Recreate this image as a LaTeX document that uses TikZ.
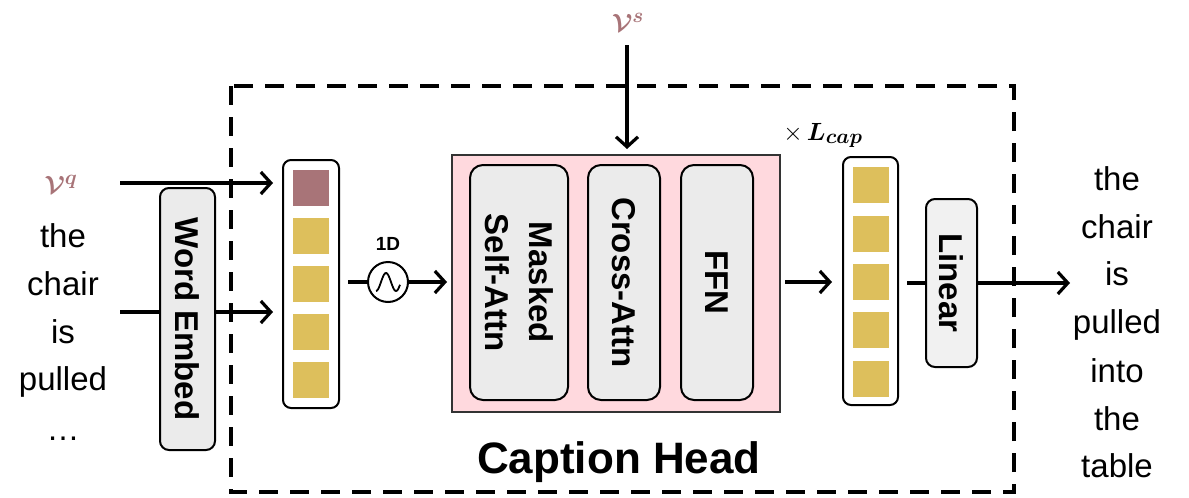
\documentclass[tikz,border=0pt]{standalone}
\usepackage{amsmath,bm}
\usepackage{fontspec}
\setmainfont{Liberation Sans}
\usetikzlibrary{arrows.meta}
\definecolor{mauve}{HTML}{A87478}
\definecolor{gold}{HTML}{DDBF5C}
\definecolor{pinkfill}{HTML}{FFD9DE}
\definecolor{boxgray}{HTML}{EBEBEB}
\begin{document}
\begin{tikzpicture}[x=1pt,y=-1pt,
  arr/.style={line width=3.2pt,-{Straight Barb[length=10pt,width=22pt]}},
  conn/.style={line width=3.2pt},
  gbox/.style={draw=black,line width=2pt,fill=boxgray,rounded corners=9pt,inner sep=0pt,font=\fontsize{33}{44}\selectfont\bfseries,align=center},
  stackbox/.style={draw=black,line width=2pt,fill=white,rounded corners=8pt,inner sep=0pt,minimum width=56,minimum height=248},
  sq/.style={fill=#1,inner sep=0pt,minimum width=36,minimum height=36},
  word/.style={anchor=base,inner sep=0pt,font=\fontsize{33}{40}\selectfont},
  dashbox/.style={line width=3.2pt,dash pattern=on 19pt off 12pt}
]
\useasboundingbox (0,0) rectangle (1189,498);

% dashed caption head frame
\draw[dashbox] (231,86) rectangle (1014,492);

% left input texts
\node[inner sep=0pt,text=mauve,font=\fontsize{32}{36}\selectfont] (vq) at (61,184) {$\bm{\mathcal{V}}^{\bm{q}}$};
\node[word] (l1) at (63,247) {the};
\node[word] (l2) at (63,295) {chair};
\node[word] (l3) at (63,343) {is};
\node[word] (l4) at (63,390) {pulled};
\node[word] (l5) at (63,440) {…};

% left token stack
\node[stackbox] (tl) at (311,284) {};
\node[sq=mauve] (a1) at (311,188) {};
\node[sq=gold] (a2) at (311,236) {};
\node[sq=gold] (a3) at (311,284) {};
\node[sq=gold] (a4) at (311,332) {};
\node[sq=gold] (a5) at (311,380) {};

% input arrows
\coordinate (qs) at (120,183);
\coordinate (ws) at (120,312);
\draw[arr,shorten >=9pt] (qs) -- (qs -| tl.west);
\draw[arr,shorten >=9pt] (ws) -- (ws -| tl.west);

% word embed
\node[gbox,rotate=-90,minimum width=262,minimum height=55] (we) at (187.5,319) {Word Embed};

% positional encoding
\node[draw=black,line width=2pt,fill=white,circle,minimum size=40,inner sep=0pt] (pe) at (388,282) {};
\draw[line width=1.8pt] plot[domain=-12:12,samples=40,smooth] ({388+\x},{282-9*sin((\x+7)*18)});
\node[inner sep=0pt,font=\fontsize{19}{22}\selectfont\bfseries] (pel) at (388,244) {1D};
\draw[conn,shorten <=8pt] (tl.east |- pe.west) -- (pe.west);

% caption head block
\node[draw=black!80,line width=2pt,fill=pinkfill,inner sep=0pt,minimum width=328,minimum height=257] (pk) at (616,283.5) {};
\draw[arr,shorten >=4pt] (pe.east) -- (pe.east -| pk.west);
\node[gbox,rotate=-90,minimum width=235,minimum height=98,rounded corners=13pt] (msa) at (519,282.5) {Masked\\Self-Attn};
\node[gbox,rotate=-90,minimum width=235,minimum height=72,rounded corners=13pt] (ca) at (624,282.5) {Cross-Attn};
\node[gbox,rotate=-90,minimum width=235,minimum height=72,rounded corners=13pt] (ffn) at (717,282.5) {FFN};

% V^s
\node[inner sep=0pt,text=mauve,font=\fontsize{32}{36}\selectfont] (vs) at (628,22) {$\bm{\mathcal{V}}^{\bm{s}}$};
\coordinate (vss) at (627,45);
\draw[arr,shorten >=5pt] (vss) -- (vss |- pk.north);

% x L_cap
\node[anchor=base,inner sep=0pt,font=\fontsize{30}{34}\selectfont] (lc) at (823,140) {$\times\,\bm{L}_{\bm{cap}}$};

% right token stack
\node[stackbox,minimum width=55] (tr) at (870.5,281) {};
\node[sq=gold] (b1) at (871,185) {};
\node[sq=gold] (b2) at (871,233.5) {};
\node[sq=gold] (b3) at (871,281.5) {};
\node[sq=gold] (b4) at (871,329.5) {};
\node[sq=gold] (b5) at (871,378.5) {};
\coordinate (pkr) at (780,282);
\draw[arr,shorten <=5pt,shorten >=10pt] (pkr) -- (pkr -| tr.west);

% linear
\node[gbox,rotate=-90,minimum width=168,minimum height=51,fill=boxgray!70] (lin) at (951.5,283) {Linear};
\coordinate (oe) at (1070,283);
\draw[conn,shorten <=8pt] (tr.east |- lin.south) -- (lin.south);
\draw[arr] (lin.north) -- (oe);

% output texts
\node[word] (r1) at (1117,190) {the};
\node[word] (r2) at (1117,238) {chair};
\node[word] (r3) at (1117,285) {is};
\node[word] (r4) at (1117,333) {pulled};
\node[word] (r5) at (1117,382) {into};
\node[word] (r6) at (1117,430) {the};
\node[word] (r7) at (1117,477) {table};

% title
\node[anchor=base,inner sep=0pt,font=\fontsize{44}{50}\selectfont\bfseries] (title) at (619,473) {Caption Head};
\end{tikzpicture}
\end{document}
